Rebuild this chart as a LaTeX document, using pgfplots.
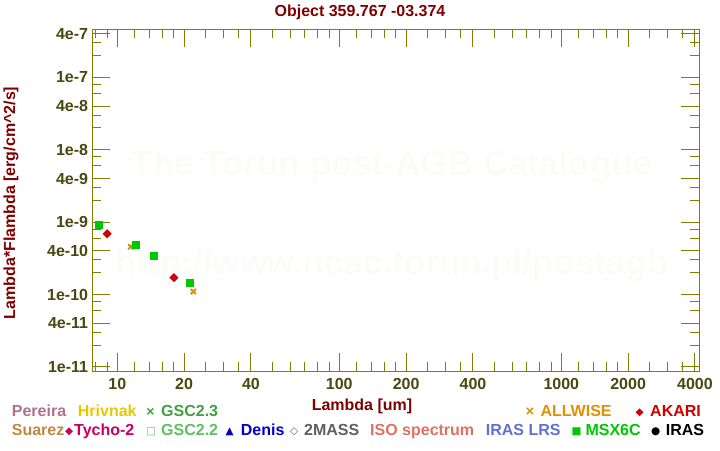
\documentclass[border=0pt]{standalone}
\usepackage{fontspec}
\setmainfont{Liberation Sans}
\newfontfamily\dejavu{DejaVu Sans}
\usepackage{pgfplots}
\pgfplotsset{compat=1.18}

\definecolor{framecol}{RGB}{128,128,0}
\definecolor{ticktxt}{RGB}{72,72,16}
\definecolor{titlecol}{RGB}{128,0,0}
\definecolor{wmark}{RGB}{252,251,247}
\definecolor{cmsx}{RGB}{0,200,0}
\definecolor{cakari}{RGB}{208,0,0}
\definecolor{cwise}{RGB}{224,144,0}
\definecolor{cpereira}{RGB}{176,112,140}
\definecolor{chrivnak}{RGB}{230,200,0}
\definecolor{cgsca}{RGB}{64,160,64}
\definecolor{csuarez}{RGB}{192,136,64}
\definecolor{ctycho}{RGB}{200,0,100}
\definecolor{cgscb}{RGB}{96,192,96}
\definecolor{cdenis}{RGB}{0,0,200}
\definecolor{c2mass}{RGB}{96,96,96}
\definecolor{ciso}{RGB}{224,112,96}
\definecolor{clrs}{RGB}{96,112,208}

\newcommand{\lf}{\fontsize{16}{19}\selectfont\bfseries}
\newcommand{\sym}{\fontsize{10.5}{12}\selectfont\dejavu}

\begin{document}
\begin{tikzpicture}
\path[use as bounding box] (0pt,0pt) rectangle (720pt,450pt);

% watermark
\node[wmark, font=\fontsize{35}{40}\selectfont\bfseries, anchor=base] at (392pt,274.5pt) {The Torun post-AGB Catalogue};
\node[wmark, font=\fontsize{35}{40}\selectfont\bfseries, anchor=base] at (392pt,175pt) {http://www.ncac.torun.pl/postagb};

\begin{axis}[
  at={(92.3pt,79pt)}, anchor=south west,
  scale only axis, width=607pt, height=341.7pt,
  xmode=log, ymode=log,
  xmin=7.72, xmax=4184,
  ymin=8.8e-12, ymax=4.59e-7,
  axis line style={framecol, line width=1pt},
  every tick/.style={framecol, line width=1pt},
  tick align=inside,
  major tick length=18pt, minor tick length=9pt,
  xtick={10,20,40,100,200,400,1000,2000,4000},
  xticklabels={10,20,40,100,200,400,1000,2000,4000},
  minor xtick={8,9,12,14,16,18,25,30,35,50,60,70,80,90,120,140,160,180,250,300,350,500,600,700,800,900,1200,1400,1600,1800,2500,3000,3500},
  ytick={1e-11,4e-11,1e-10,4e-10,1e-9,4e-9,1e-8,4e-8,1e-7,4e-7},
  yticklabels={1e-11,4e-11,1e-10,4e-10,1e-9,4e-9,1e-8,4e-8,1e-7,4e-7},
  minor ytick={2e-11,3e-11,6e-11,8e-11,2e-10,3e-10,6e-10,8e-10,2e-9,3e-9,6e-9,8e-9,2e-8,3e-8,6e-8,8e-8,2e-7,3e-7},
  tick label style={font=\fontsize{16}{18}\selectfont\bfseries, text=ticktxt},
  xticklabel style={inner sep=0pt, yshift=-7pt},
  yticklabel style={inner sep=0pt, xshift=-4pt},
]
% ALLWISE
\addplot[only marks, mark=x, mark size=3.6pt, mark options={cwise, line width=2pt}]
  coordinates {(11.5,4.58e-10) (22.0,1.10e-10)};
% MSX6C
\addplot[only marks, mark=square*, mark size=3.5pt, mark options={cmsx, fill=cmsx, line width=0pt}]
  coordinates {(8.30,9.21e-10) (12.17,4.88e-10) (14.67,3.44e-10) (21.3,1.46e-10)};
% AKARI
\addplot[only marks, mark=square*, mark size=3pt, mark options={cakari, fill=cakari, rotate=45, line width=0.3pt}]
  coordinates {(9.0,6.92e-10) (18.0,1.71e-10)};
\end{axis}

% title and axis labels
\node[titlecol, font=\lf, anchor=base] at (360pt,433pt) {Object 359.767 -03.374};
\node[titlecol, font=\lf, anchor=base] at (362pt,39.5pt) {Lambda [um]};
\node[titlecol, font=\lf, anchor=base, rotate=90] at (15pt,247pt) {Lambda*Flambda [erg/cm\textasciicircum 2/s]};

% catalogue key, row 1
\begin{scope}[every node/.style={anchor=base west, inner sep=0pt, font=\lf}]
\node[cpereira] at (11.7pt,34pt) {Pereira};
\node[chrivnak] at (77.7pt,34pt) {Hrivnak};
\node[cgsca, font=\fontsize{14}{15}\selectfont\bfseries] at (146.2pt,34pt) {×};
\node[cgsca] at (161pt,34pt) {GSC2.3};
\node[cwise, font=\fontsize{15}{16}\selectfont\bfseries] at (525.3pt,34pt) {×};
\node[cwise] at (540.3pt,34pt) {ALLWISE};
\node[cakari, font=\sym] at (635.5pt,35pt) {◆};
\node[cakari] at (650pt,34pt) {AKARI};
% row 2
\node[csuarez] at (11.7pt,14.5pt) {Suarez};
\node[ctycho, font=\sym] at (64.8pt,15.5pt) {◆};
\node[ctycho] at (74pt,14.5pt) {Tycho-2};
\node[cgscb, font=\sym] at (145.8pt,15.5pt) {□};
\node[cgscb] at (161pt,14.5pt) {GSC2.2};
\node[cdenis, font=\sym] at (225.3pt,15.5pt) {▲};
\node[cdenis] at (240.7pt,14.5pt) {Denis};
\node[c2mass, font=\sym] at (290pt,15.5pt) {◇};
\node[c2mass] at (304pt,14.5pt) {2MASS};
\node[ciso] at (370pt,14.5pt) {ISO spectrum};
\node[clrs] at (485.7pt,14.5pt) {IRAS LRS};
\node[cmsx, font=\sym] at (571.3pt,15.5pt) {■};
\node[cmsx] at (585.3pt,14.5pt) {MSX6C};
\node[black, font=\sym] at (651pt,15.5pt) {●};
\node[black] at (665.7pt,14.5pt) {IRAS};
\end{scope}
\end{tikzpicture}
\end{document}
